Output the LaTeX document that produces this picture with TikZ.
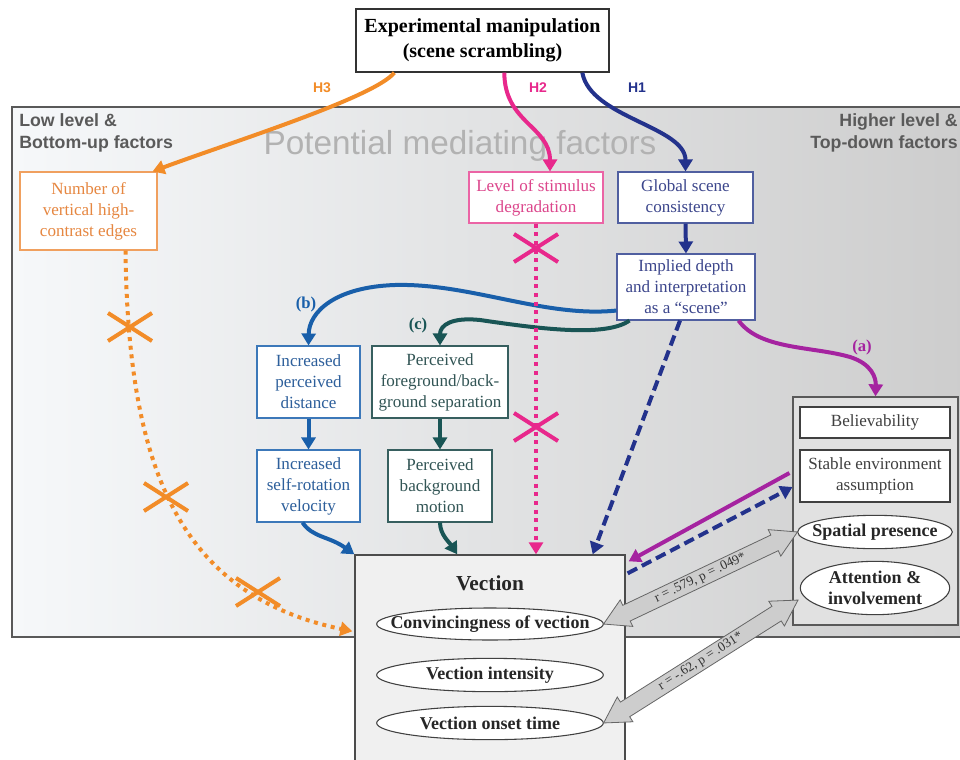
\documentclass[tikz,border=0pt]{standalone}
\usepackage{fontspec}
\setmainfont{Liberation Serif}
\setsansfont{Liberation Sans}
\usetikzlibrary{arrows.meta,shapes.geometric,shapes.arrows,calc}
\definecolor{orng}{RGB}{242,140,40}
\definecolor{orngL}{RGB}{240,160,95}
\definecolor{orngT}{RGB}{230,135,65}
\definecolor{pnk}{RGB}{232,40,140}
\definecolor{pnkL}{RGB}{235,100,165}
\definecolor{pnkT}{RGB}{220,70,140}
\definecolor{navy}{RGB}{35,50,140}
\definecolor{navyL}{RGB}{80,95,160}
\definecolor{navyT}{RGB}{60,70,140}
\definecolor{bblue}{RGB}{25,95,170}
\definecolor{blueL}{RGB}{60,120,185}
\definecolor{blueT}{RGB}{45,95,155}
\definecolor{teal2}{RGB}{25,85,85}
\definecolor{tealL}{RGB}{55,95,95}
\definecolor{tealT}{RGB}{50,85,85}
\definecolor{purp}{RGB}{165,35,160}
\definecolor{labC}{RGB}{90,90,90}
\definecolor{bigC}{RGB}{178,178,178}
\definecolor{panL}{RGB}{246,248,250}
\definecolor{panR}{RGB}{205,205,205}
\definecolor{grpF}{RGB}{225,225,225}
\definecolor{vecF}{RGB}{240,240,240}
\definecolor{corrF}{RGB}{205,205,205}
\begin{document}
\begin{tikzpicture}[x=0.75pt,y=-0.75pt,
  box/.style={draw, fill=white, inner sep=0pt, align=center, line width=0.8pt, font=\fontsize{12.8}{15.8}\selectfont},
  ell/.style={draw=black!75, fill=white, ellipse, inner sep=0pt, line width=0.8pt},
  bt/.style={font=\bfseries\fontsize{13.5}{16}\selectfont, text=black!85},
  lab/.style={font=\sffamily\bfseries\fontsize{13.3}{17}\selectfont, text=labC, inner sep=0pt},
  hlab/.style={font=\sffamily\bfseries\fontsize{10.5}{12}\selectfont},
  abc/.style={font=\bfseries\fontsize{12.5}{14}\selectfont},
  arr/.style={line width=3pt, -{Triangle[length=9pt,width=10.5pt]}},
  dotarr/.style={line width=3pt, dash pattern=on 3pt off 3.5pt, -{Triangle[length=9pt,width=10.5pt]}},
  dasharr/.style={line width=3pt, dash pattern=on 8pt off 4pt, -{Triangle[length=9pt,width=10.5pt]}},
  corr/.style={double arrow, draw=black!60, fill=corrF, line width=0.6pt, inner xsep=1pt, inner ysep=1.8pt,
    double arrow head extend=4.5pt, double arrow tip angle=60, font=\fontsize{10}{11}\selectfont, text=black!80},
  pics/xmk/.style={code={\draw[line width=3pt] (-22,-14)--(22,14) (-22,14)--(22,-14);}}
]
\useasboundingbox (0,0) rectangle (960,760);
\clip (0,0) rectangle (960,760);
\fill[white] (0,0) rectangle (960,760);

% panel
\shade[left color=panL, right color=panR] (12,107) rectangle (968,637);
\draw[line width=1.3pt, draw=black!65] (968,107) -- (12,107) -- (12,637) -- (968,637);
\node[lab, anchor=north west, align=left] (ll) at (19,113) {Low level \&\\Bottom-up factors};
\node[lab, anchor=north east, align=right] (hl) at (958,113) {Higher level \&\\Top-down factors};
\node[font=\sffamily\fontsize{25}{28}\selectfont, text=bigC] (pmf) at (460,146) {Potential mediating factors};

% top box
\node[box, draw=black!80, line width=1pt, font=\bfseries\fontsize{15}{18.5}\selectfont, minimum width=189.75pt, minimum height=47.25pt] (top) at (482.5,40.5) {Experimental manipulation\\(scene scrambling)};

% mediator boxes
\node[box, draw=orngL, text=orngT, minimum width=102.75pt, minimum height=58.5pt] (obox) at (88.5,211) {Number of\\vertical high-\\contrast edges};
\node[box, draw=pnkL, text=pnkT, minimum width=100.5pt, minimum height=38.25pt] (pbox) at (536,197.5) {Level of stimulus\\degradation};
\node[box, draw=navyL, text=navyT, minimum width=101.25pt, minimum height=38.25pt] (gbox) at (685.5,197.5) {Global scene\\consistency};
\node[box, draw=navyL, text=navyT, minimum width=103.5pt, minimum height=49.5pt] (ibox) at (686,287) {Implied depth\\and interpretation\\as a ``scene''};
\node[box, draw=blueL, text=blueT, minimum width=77.25pt, minimum height=54pt] (ipd) at (308.5,382) {Increased\\perceived\\distance};
\node[box, draw=tealL, text=tealT, minimum width=102pt, minimum height=54pt] (pfb) at (440,382) {Perceived\\foreground/back-\\ground separation};
\node[box, draw=blueL, text=blueT, minimum width=77.25pt, minimum height=54pt] (isr) at (308.5,486) {Increased\\self-rotation\\velocity};
\node[box, draw=tealL, text=tealT, minimum width=78pt, minimum height=54pt] (pbm) at (440,486) {Perceived\\background\\motion};

% right group
\node[draw=black!65, fill=grpF, line width=1pt, inner sep=0pt, minimum width=123.75pt, minimum height=171pt] (grp) at (875.5,511) {};
\node[box, draw=black!75, text=black!75, minimum width=112.5pt, minimum height=23.25pt] (bel) at (875,422.5) {Believability};
\node[box, draw=black!75, text=black!75, minimum width=112.5pt, minimum height=39pt] (sea) at (875,476) {Stable environment\\assumption};
\node[ell, minimum width=116pt, minimum height=25pt, label={[bt]center:Spatial presence}] (sp) at (875,532) {};
\node[ell, minimum width=112pt, minimum height=40pt, label={[bt, align=center]center:{Attention \&\\involvement}}] (ai) at (875,588) {};

% vection box
\node[draw=black!70, fill=vecF, line width=1pt, inner sep=0pt, minimum width=202.5pt, minimum height=161.25pt] (vec) at (490,662.5) {};
\node[bt, font=\bfseries\fontsize{16}{18}\selectfont] (vtit) at (490,583) {Vection};
\node[ell, minimum width=170pt, minimum height=24pt, label={[bt]center:Convincingness of vection}] (conv) at (490,624) {};
\node[ell, minimum width=170pt, minimum height=25pt, label={[bt]center:Vection intensity}] (vint) at (490,675) {};
\node[ell, minimum width=170pt, minimum height=25pt, label={[bt]center:Vection onset time}] (vons) at (490,723) {};

% hypotheses arrows
\draw[arr, orng] ($(top.south west)+(39,0)$) .. controls +(-20,25) and +(75,-28) .. ($(obox.north east)+(-5,0)$);
\draw[arr, pnk] ($(top.south west)+(149,0)$) .. controls +(0,50) and +(0,-45) .. ($(pbox.north)+(14,0)$);
\draw[arr, navy] ($(top.south west)+(227,0)$) .. controls +(8,45) and +(0,-45) .. (gbox.north);
\node[hlab, text=orng] (h3) at (322,88) {H3};
\node[hlab, text=pnk] (h2) at (538,88) {H2};
\node[hlab, text=navy] (h1) at (637,88) {H1};

\draw[arr, navy] (gbox.south) -- (ibox.north);

% (b) (c) (a)
\draw[arr, bblue] ($(ibox.south west)+(0,-10)$) .. controls (545,318) and (470,283) .. (395,285) .. controls (335,287) and (309,312) .. (ipd.north);
\draw[arr, teal2] ($(ibox.south west)+(13,0)$) .. controls (605,338) and (535,328) .. (480,320) .. controls (452,317) and (440,325) .. (pfb.north);
\draw[arr, purp] ($(ibox.south east)+(-17,0)$) .. controls (760,350) and (812,346) .. (850,357) .. controls (872,364) and (876,378) .. (grp.north);
\node[abc, text=bblue] (lb) at (306,304) {(b)};
\node[abc, text=teal2] (lc) at (418,325) {(c)};
\node[abc, text=purp] (la) at (862,347) {(a)};

\draw[arr, bblue] (ipd.south) -- (isr.north);
\draw[arr, teal2] (pfb.south -| pbm.north) -- (pbm.north);

% dotted / dashed into vection
\draw[dotarr, orng] ($(obox.south)+(37,0)$) .. controls (128,470) and (180,595) .. ($(vec.north west)+(-2,77)$);
\pic[color=orng] at (130,327) {xmk};
\pic[color=orng] at (166,497) {xmk};
\pic[color=orng] at (258,592) {xmk};
\draw[dotarr, pnk] (pbox.south) -- (pbox.south |- vec.north);
\pic[color=pnk] at (536,248) {xmk};
\pic[color=pnk] at (536,427) {xmk};
\draw[dasharr, navy] ($(ibox.south)+(-6,0)$) -- ($(vec.north east)+(-33,0)$);

\draw[arr, bblue] ($(isr.south)+(-6,0)$) .. controls +(10,15) and +(-25,-18) .. (vec.north west);
\draw[arr, teal2] (pbm.south) .. controls +(0,12) and +(-8,-12) .. ($(vec.north west)+(103,0)$);

\draw[arr, purp] ($(sea.west)+(-10,-3)$) -- ($(vec.north east)+(3,7)$);
\draw[dasharr, navy] ($(vec.north east)+(2,19)$) -- ($(sea.west)+(-7,11)$);

% correlation arrows
\node[corr, rotate=25.4, minimum height=161pt] (r1) at ($(conv.east)!0.5!(sp.west)$) {r = .579, p = .049*};
\node[corr, rotate=32.3, minimum height=172.5pt] (r2) at ($(vons.east)!0.5!(ai.west)+(-1,6)$) {r = -.62, p = .031*};
\end{tikzpicture}
\end{document}
